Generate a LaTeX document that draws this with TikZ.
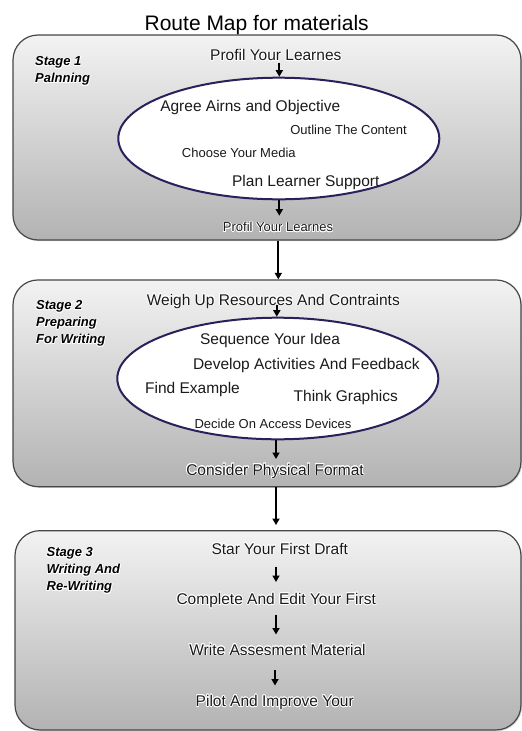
\documentclass[tikz,border=0pt]{standalone}
\usepackage{fontspec}
\setmainfont{Liberation Sans}
\usepackage{contour}
\contourlength{0.7pt}
\contournumber{20}
\usetikzlibrary{shapes.geometric,arrows.meta,shadows,calc}
\definecolor{ellcol}{HTML}{2D1F5C}
\definecolor{txtcol}{HTML}{1A1A1A}
\newcommand{\txtglow}[1]{\contour{white}{#1}}
\begin{document}
\begin{tikzpicture}[x=1pt,y=-1pt,
  stagebox/.style={draw=black!72, line width=1.2pt, rounded corners=25pt,
    top color=black!5, bottom color=black!30, inner sep=0pt,
    drop shadow={opacity=0.3, shadow xshift=1.2pt, shadow yshift=-1.2pt}},
  oval/.style={ellipse, draw=ellcol, line width=2pt, fill=white, inner sep=0pt},
  maintext/.style={inner sep=0pt, text=txtcol, font=\fontsize{15.5}{18}\selectfont, anchor=base},
  smalltext/.style={inner sep=0pt, text=txtcol, font=\fontsize{13}{15}\selectfont, anchor=base},
  stagetext/.style={inner sep=0pt, align=left, anchor=north west,
    font=\fontsize{13}{17}\selectfont\bfseries\itshape},
  arr/.style={-{Triangle[length=6.5pt,width=7pt]}, line width=2pt, black}]
\useasboundingbox (0,0) rectangle (522,731);

% title
\node[inner sep=0pt, anchor=base, font=\fontsize{21}{24}\selectfont] (title) at (256.7,30) {Route Map for materials};

% stage boxes
\node[stagebox, minimum width=508pt, minimum height=205pt] (box1) at (267,137.5) {};
\node[stagebox, minimum width=508pt, minimum height=206.7pt] (box2) at (267,383.3) {};
\node[stagebox, minimum width=506pt, minimum height=199.3pt] (box3) at (268,630.3) {};

% stage labels
\node[stagetext] (s1) at (35,56.7) {\txtglow{Stage 1}\\\txtglow{Palnning}};
\node[stagetext] (s2) at (36,300.5) {\txtglow{Stage 2}\\\txtglow{Preparing}\\\txtglow{For Writing}};
\node[stagetext] (s3) at (46.5,547.5) {\txtglow{Stage 3}\\\txtglow{Writing And}\\\txtglow{Re-Writing}};

% stage 1
\node[maintext] (p1) at (275.8,60.7) {\txtglow{Profil Your Learnes}};
\node[oval, minimum width=321pt, minimum height=121.6pt] (e1) at (278.8,138.5) {};
\node[maintext] (a1) at (250.3,111.5) {Agree Airns and Objective};
\node[smalltext] (a2) at (348.5,134) {Outline The Content};
\node[smalltext] (a3) at (238.8,157.7) {Choose Your Media};
\node[maintext] (a4) at (305.8,186.5) {Plan Learner Support};
\node[smalltext] (p2) at (278,231.7) {\txtglow{Profil Your Learnes}};

% stage 2
\node[maintext] (w1) at (273.3,305) {\txtglow{Weigh Up Resources And Contraints}};
\node[oval, minimum width=321pt, minimum height=121.6pt] (e2) at (277.8,378.5) {};
\node[maintext] (b1) at (270,344.5) {Sequence Your Idea};
\node[maintext] (b2) at (306.3,369.5) {Develop Activities And Feedback};
\node[maintext] (b3) at (192.5,393.5) {Find Example};
\node[maintext] (b4) at (345.8,401) {Think Graphics};
\node[smalltext] (b5) at (273,428) {Decide On Access Devices};
\node[maintext] (c1) at (275,475) {\txtglow{Consider Physical Format}};

% stage 3
\node[maintext] (t1) at (279.7,554) {\txtglow{Star Your First Draft}};
\node[maintext] (t2) at (276.2,604.5) {\txtglow{Complete And Edit Your First}};
\node[maintext] (t3) at (277.5,655) {\txtglow{Write Assesment Material}};
\node[maintext] (t4) at (274.7,706.5) {\txtglow{Pilot And Improve Your}};
\coordinate (ax) at (276,0);

% connectors
\draw[arr] ($(e1.north |- p1.base)+(0.5,2)$) -- ($(e1.north)+(0.5,0)$);
\draw[arr] ($(e1.south)+(0.5,0)$) -- ($(e1.south |- p2.base)+(0.5,-16)$);
\draw[arr] ($(e1.south |- box1.south)+(-0.5,0)$) -- ($(e1.south |- box2.north)+(-0.5,0)$);
\draw[arr] ($(e2.north |- w1.base)+(-1,0)$) -- ($(e2.north)+(-1,0)$);
\draw[arr] ($(e2.south)+(-1.8,0)$) -- ($(e2.south |- c1.base)+(-1.8,-16)$);
\draw[arr] ($(e2.south |- box2.south)+(-1.8,0)$) -- ($(e2.south |- box3.north)+(-1.8,-5)$);
\draw[arr] ($(ax |- t1.base)+(0,12.5)$) -- ($(ax |- t2.base)+(0,-22.5)$);
\draw[arr] ($(ax |- t2.base)+(0,10)$) -- ($(ax |- t3.base)+(0,-20.5)$);
\draw[arr] ($(ax |- t3.base)+(-1,15)$) -- ($(ax |- t4.base)+(-1,-21)$);
\end{tikzpicture}
\end{document}
